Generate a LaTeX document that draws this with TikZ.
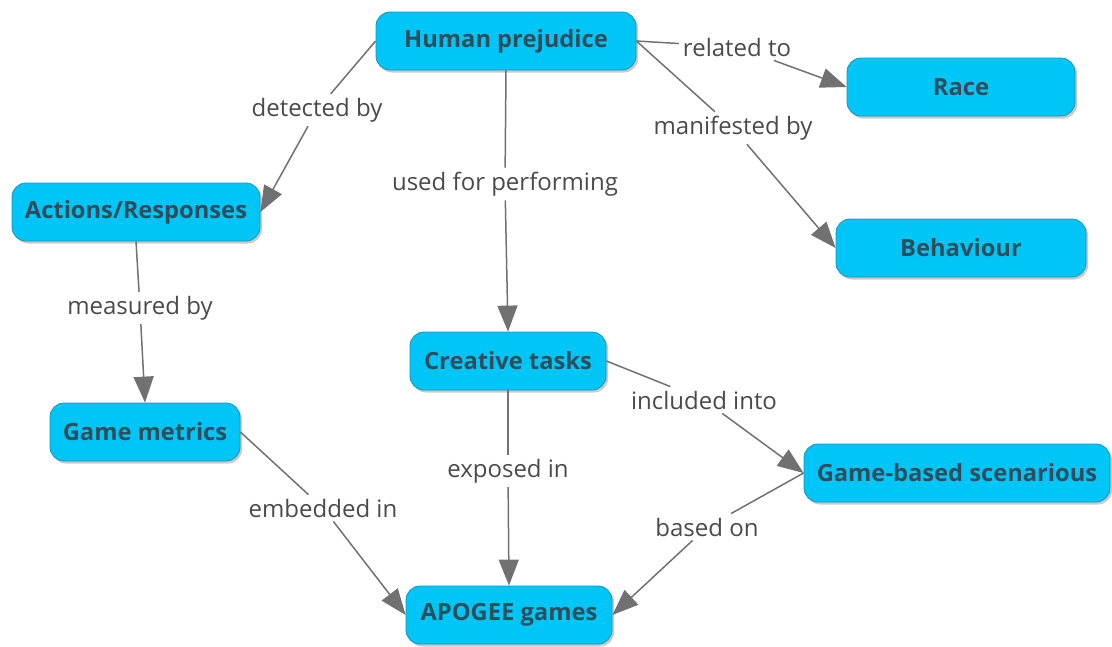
\documentclass[tikz,border=0pt]{standalone}
\usepackage{fontspec}
\setmainfont{Open Sans}
\usetikzlibrary{arrows.meta,shadows}
\definecolor{cfill}{HTML}{00C6F8}
\definecolor{cdraw}{HTML}{1896B8}
\definecolor{ctext}{HTML}{2F4C5A}
\definecolor{ltext}{HTML}{4A4A4A}
\definecolor{cline}{HTML}{717171}
\tikzset{
  concept/.style={draw=cdraw, line width=0.8pt, fill=cfill, rounded corners=14pt,
    minimum height=58pt, inner sep=0pt, text=ctext,
    font=\fontsize{23.7}{28}\selectfont\bfseries,
    drop shadow={shadow xshift=2pt, shadow yshift=-2.5pt, opacity=0.35, fill=black!60}},
  lbl/.style={inner sep=4pt, text=ltext, font=\fontsize{24}{28}\selectfont},
  conn/.style={draw=cline, line width=1.5pt},
  arr/.style={conn, -{Triangle[length=26pt,width=20pt]}}
}
\begin{document}
\begin{tikzpicture}[x=1pt,y=-1pt]
\useasboundingbox (0,0) rectangle (1112,646);
% concepts
\node[concept, minimum width=260pt] (hp) at (506,41) {Human prejudice};
\node[concept, minimum width=228pt] (race) at (961,87) {Race};
\node[concept, minimum width=250pt] (beh) at (961,248) {Behaviour};
\node[concept, minimum width=248pt] (ar) at (136,212) {Actions/Responses};
\node[concept, minimum width=196pt] (ct) at (508,361) {Creative tasks};
\node[concept, minimum width=190pt] (gm) at (145,432) {Game metrics};
\node[concept, minimum width=306pt] (gbs) at (957,473) {Game-based scenarious};
\node[concept, minimum width=206pt] (ap) at (509,615) {APOGEE games};
% labels
\node[lbl] (lrel) at (737,47) {related to};
\node[lbl] (lman) at (733,128) {manifested by};
\node[lbl] (ldet) at (317,110) {detected by};
\node[lbl] (luse) at (505,184) {used for performing};
\node[lbl] (lmea) at (140,308) {measured by};
\node[lbl] (linc) at (704,400) {included into};
\node[lbl] (lexp) at (508,471) {exposed in};
\node[lbl] (lemb) at (323,508) {embedded in};
\node[lbl] (lbas) at (707,527) {based on};
% connectors
\draw[conn] (hp.east) -- (lrel);
\draw[arr] (lrel) -- (race.west);
\draw[conn] (hp.east) -- (lman);
\draw[arr] (lman) -- (beh.west);
\draw[conn] (hp.west) -- (ldet);
\draw[arr] (ldet) -- (ar.east);
\draw[conn] (hp.south) -- (luse);
\draw[arr] (luse) -- (ct.north);
\draw[conn] (ar.south) -- (lmea);
\draw[arr] (lmea) -- (gm.north);
\draw[conn] (ct.east) -- (linc);
\draw[arr] (linc) -- (gbs.west);
\draw[conn] (ct.south) -- (lexp);
\draw[arr] (lexp) -- (ap.north);
\draw[conn] (gm.east) -- (lemb);
\draw[arr] (lemb) -- (ap.west);
\draw[conn] (gbs.west) -- (lbas);
\draw[arr] (lbas) -- (ap.east);
\end{tikzpicture}
\end{document}
